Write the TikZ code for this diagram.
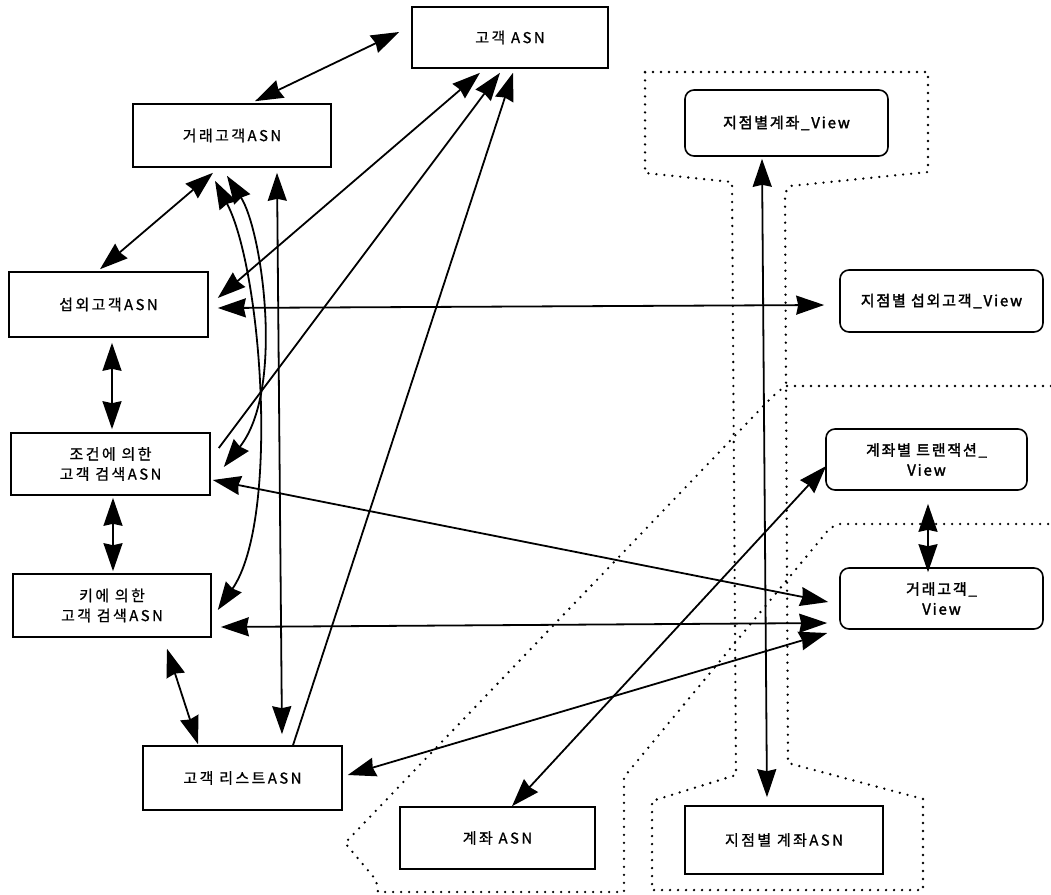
\documentclass[tikz,border=0pt]{standalone}
\usepackage{fontspec}
\setmainfont{Noto Sans CJK KR}[LetterSpace=16,FakeBold=0.8]
\newfontfamily\viewfont{Noto Sans CJK KR}[LetterSpace=12,FakeBold=2]
\usetikzlibrary{arrows.meta,calc}
\begin{document}
\begin{tikzpicture}[x=1pt,y=-1pt,
  asn/.style={draw,line width=1.6pt,inner sep=2pt,align=center,font=\fontsize{15}{20}\selectfont},
  view/.style={asn,rounded corners=9pt,font=\viewfont\fontsize{15}{20}\selectfont},
  conn/.style={line width=1.8pt},
  dbl/.style={{Stealth[length=28pt,width=19pt,inset=2pt]}-{Stealth[length=28pt,width=19pt,inset=2pt]}},
  sgl/.style={-{Stealth[length=28pt,width=19pt,inset=2pt]}},
  dotreg/.style={line width=2.6pt,dash pattern=on 0pt off 8pt,line cap=round,line join=round}
]
\useasboundingbox (0,0) rectangle (1051,894);

% dotted group outlines
\draw[dotreg] (645,72) -- (928,72) -- (928,172) -- (790,186) -- (785,193) -- (788,763) -- (923,799) -- (923,890) -- (652,890) -- (652,801) -- (736,775) -- (732,182) -- (645,173) -- cycle;
\draw[dotreg] (1051,386) -- (785,386) -- (772,397) -- (345,843) -- (376,880) -- (378,892) -- (624,892) -- (624,777) -- (830,528) -- (840,524) -- (1051,524);

% nodes
\node[asn,minimum width=196pt,minimum height=61pt] (kASN) at (510,37.5) {고객 ASN};
\node[asn,minimum width=198pt,minimum height=63pt] (grASN) at (232,135.5) {거래고객ASN};
\node[asn,minimum width=199pt,minimum height=65pt] (sASN) at (108.5,304.5) {섭외고객ASN};
\node[asn,minimum width=199pt,minimum height=62pt] (jASN) at (110.5,464) {조건에 의한\\고객 검색ASN};
\node[asn,minimum width=198pt,minimum height=63pt] (kiASN) at (112,605.5) {키에 의한\\고객 검색ASN};
\node[asn,minimum width=199pt,minimum height=64pt] (lASN) at (242.5,778) {고객 리스트ASN};
\node[asn,minimum width=195pt,minimum height=62pt] (acASN) at (497.5,838) {계좌 ASN};
\node[asn,minimum width=198pt,minimum height=68pt] (bacASN) at (784,840) {지점별 계좌ASN};
\node[view,minimum width=203pt,minimum height=66pt] (bacV) at (786.5,123) {지점별계좌\_View};
\node[view,minimum width=203pt,minimum height=62pt] (bsV) at (941.5,301) {지점별 섭외고객\_View};
\node[view,minimum width=201pt,minimum height=61pt] (atV) at (926.5,459.5) {계좌별 트랜잭션\_\\View};
\node[view,minimum width=203pt,minimum height=61pt] (grV) at (941.5,598.5) {거래고객\_\\View};

% connectors
\draw[conn,dbl] ($(kASN.west)+(-12,-5.5)$) -- ($(grASN.north)+(23,-2)$);
\draw[conn,dbl] ($(grASN.south)+(-19,5)$) -- ($(sASN.north)+(-8.5,-2)$);
\draw[conn,dbl] ($(sASN.south)+(3.5,5)$) -- ($(jASN.north)+(1.5,-3)$);
\draw[conn,dbl] ($(jASN.south)+(2.5,2)$) -- ($(kiASN.north)+(1,-2)$);
\draw[conn,dbl] ($(kiASN.south)+(55,11)$) -- ($(lASN.north)+(-44.5,-1)$);
\draw[conn,dbl] ($(sASN.east)+(9,3.5)$) -- ($(bsV.west)+(-15,4)$);
\draw[conn,dbl] ($(sASN.east)+(9,-6.5)$) -- ($(kASN.south)+(-30,4)$);
\draw[conn,sgl] ($(jASN.east)+(8,-16)$) -- ($(kASN.south)+(-10,4)$);
\draw[conn,sgl] ($(lASN.north)+(50.5,0)$) -- ($(kASN.south)+(3,4)$);
\draw[conn,dbl] ($(grASN.south)+(45,5)$) -- ($(lASN.north)+(39.5,-11)$);
\draw[conn,dbl] ($(grASN.south)+(-5,8)$) .. controls (262,230) and (285,390) .. ($(jASN.east)+(13,3)$);
\draw[conn,dbl] ($(grASN.south)+(-17,13)$) .. controls (262,270) and (280,520) .. ($(kiASN.east)+(6,4.5)$);
\draw[conn,dbl] ($(acASN.north)+(14.5,0)$) -- ($(atV.west)+(1,6.5)$);
\draw[conn,dbl] ($(jASN.east)+(2,16)$) -- ($(grV.west)+(-11,3.5)$);
\draw[conn,dbl] ($(kiASN.east)+(9,21.5)$) -- ($(grV.west)+(-12,24.5)$);
\draw[conn,dbl] ($(lASN.east)+(5,-3)$) -- ($(grV.west)+(-12,34.5)$);
\draw[conn,dbl] ($(atV.south)+(1.5,13)$) -- ($(grV.north)+(-13.5,5)$);
\draw[conn,dbl] ($(bacV.south)+(-24.5,2)$) -- ($(bacASN.north)+(-17,-8)$);
\end{tikzpicture}
\end{document}
